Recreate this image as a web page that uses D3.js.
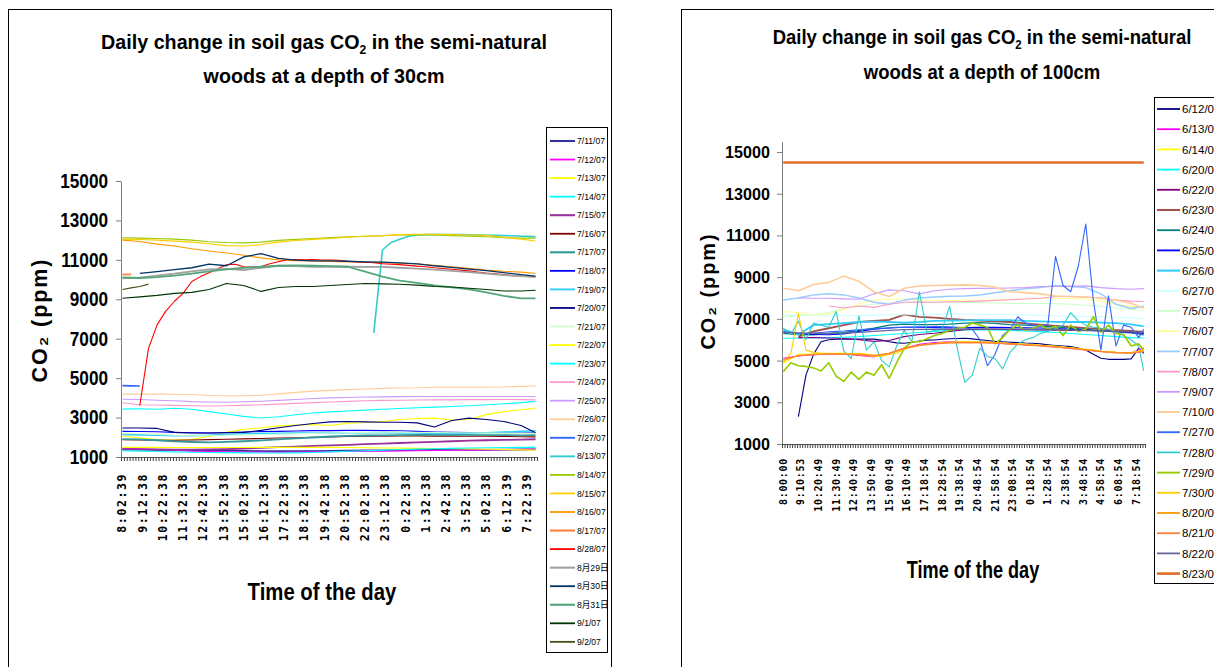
<!DOCTYPE html>
<html>
<head>
<meta charset="utf-8">
<script src="https://cdn.jsdelivr.net/npm/d3@7"></script>
<style>
  body { margin: 0; background: #fff; }
  svg { display: block; font-family: "Liberation Sans", Arial, sans-serif; }
</style>
</head>
<body>
<div id="chart"></div>
<script>

// tick labels (every 7th ten-minute category)
var timesL = ["8:02:39","9:12:38","10:22:38","11:32:38","12:42:38","13:52:38","15:02:38",
  "16:12:38","17:22:38","18:32:38","19:42:38","20:52:38","22:02:38","23:12:38","0:22:38",
  "1:32:38","2:42:38","3:52:38","5:02:38","6:12:39","7:22:39"];
var timesR = ["8:00:00","9:10:53","10:20:49","11:30:49","12:40:49","13:50:49","15:00:49",
  "16:10:49","17:18:54","18:28:54","19:38:54","20:48:54","21:58:54","23:08:54","0:18:54",
  "1:28:54","2:38:54","3:48:54","4:58:54","6:08:54","7:18:54"];
var yTicks = [1000, 3000, 5000, 7000, 9000, 11000, 13000, 15000];

////////////////////////
// 30 cm depth series
////////////////////////
var namesL = ["7/11/07","7/12/07","7/13/07","7/14/07","7/15/07","7/16/07","7/17/07","7/18/07",
  "7/19/07","7/20/07","7/21/07","7/22/07","7/23/07","7/24/07","7/25/07","7/26/07","7/27/07",
  "8/13/07","8/14/07","8/15/07","8/16/07","8/17/07","8/28/07","8月29日","8月30日","8月31日",
  "9/1/07","9/2/07"];
// minutes between readings of each series
var stepL = [60,60,60,60,60,60,60,60,60,60,60,60,60,60,60,60,30,30,60,60,60,30,30,60,60,60,60,30];

var L_0711 = [1380,1370,1360,1350,1340,1330,1320,1310,1300,1300,1300,1300,1310,1320,1330,1340,1350,1360,1370,1370,1360,1360,1370,1380,1390];
var L_0712 = [1450,1420,1380,1340,1300,1280,1260,1250,1250,1240,1250,1260,1270,1280,1290,1300,1310,1320,1330,1340,1350,1360,1370,1380,1400];
var L_0713 = [2050,1980,1880,1860,1900,2050,2250,2400,2480,2580,2620,2650,2600,2720,2750,2800,2900,2950,2970,2880,2900,3150,3300,3400,3480];
var L_0714 = [3430,3450,3420,3470,3420,3300,3180,3060,2980,3040,3140,3230,3290,3330,3380,3420,3460,3500,3530,3560,3600,3650,3700,3760,3820];
var L_0715 = [1400,1390,1380,1370,1370,1380,1400,1430,1460,1500,1530,1560,1590,1620,1650,1680,1710,1740,1770,1800,1830,1850,1870,1880,1900];
var L_0716 = [1880,1860,1850,1850,1860,1880,1900,1920,1940,1960,1980,2000,2020,2040,2050,2060,2070,2070,2060,2060,2050,2050,2040,2030,2020];
var L_0717 = [1910,1890,1850,1790,1760,1740,1770,1800,1840,1890,1940,1990,2040,2070,2090,2100,2110,2120,2120,2130,2120,2110,2110,2100,2110];
var L_0718 = [2300,2290,2280,2250,2230,2220,2240,2270,2290,2300,2320,2340,2340,2350,2350,2340,2330,2300,2270,2250,2240,2230,2220,2220,2230];
var L_0719 = [2150,2120,2100,2080,2080,2100,2150,2180,2200,2200,2210,2220,2220,2230,2230,2230,2220,2220,2200,2200,2210,2230,2260,2300,2330];
var L_0720 = [2470,2470,2450,2250,2220,2220,2230,2250,2350,2480,2600,2700,2780,2800,2780,2760,2760,2730,2520,2850,2970,2900,2800,2600,2230];
var L_0721 = [2200,2180,2150,2100,2080,2080,2100,2120,2140,2160,2180,2200,2220,2240,2250,2260,2260,2250,2240,2230,2220,2210,2200,2200,2200];
var L_0722 = [1490,1490,1490,1480,1480,1480,1480,1480,1490,1490,1490,1490,1490,1480,1470,1460,1450,1440,1430,1420,1410,1400,1380,1360,1350];
var L_0723 = [1320,1300,1280,1260,1240,1230,1220,1210,1200,1200,1210,1230,1260,1290,1320,1350,1380,1400,1420,1440,1460,1470,1480,1490,1490];
var L_0724 = [3750,3650,3640,3620,3600,3590,3600,3620,3650,3680,3720,3760,3790,3820,3850,3870,3880,3890,3900,3900,3910,3910,3920,3910,3900];
var L_0725 = [3930,3920,3880,3850,3810,3790,3780,3800,3830,3870,3920,3970,4000,4020,4040,4050,4060,4070,4070,4070,4070,4070,4070,4070,4070];
var L_0726 = [4190,4190,4190,4180,4170,4120,4110,4110,4130,4200,4280,4340,4380,4420,4450,4480,4500,4510,4540,4540,4540,4540,4550,4580,4600];
var L_0727 = [4620,4610,4600];
var L_0813 = [null,null,null,null,null,null,null,null,null,null,null,null,null,null,null,
  null,null,null,null,null,null,null,null,null,null,null,null,null,null,
  7300,11500,11880,12050,12200,12260,12280,12290,12290,12280,12280,12270,12260,12250,12240,12230,12220,12200,12190,12170];
var L_0814 = [12115,12100,12080,12050,12000,11920,11880,11860,11900,11990,12040,12080,12130,12170,12200,12220,12260,12270,12260,12230,12200,12170,12120,12100,12100];
var L_0815 = [12050,12030,12000,11950,11900,11820,11720,11700,11780,11900,11980,12040,12080,12150,12200,12230,12280,12300,12300,12280,12260,12240,12150,12050,11960];
var L_0816 = [12000,11930,11800,11700,11560,11450,11350,11230,11100,11000,10960,10940,10920,10900,10880,10860,10830,10800,10730,10650,10570,10480,10420,10380,10310];
var L_0817 = [10260,10260];
var L_0828 = [null,null,3600,6500,7700,8400,8900,9300,9900,10150,10350,10550,10750,10780,10650,10640,10660,10800,10900,11010,
  11020,11000,11020,10990,10990,10980,10930,10900,10880,10850,10800,10780,10760,10720,10680,10650,10600,10560,10520,10480,
  10440,10380,10330,10290,10250,10200,10170,10150,10140];
var L_0829 = [10060,10100,10200,10300,10420,10520,10540,10480,10600,10700,10680,10640,10650,10650,10640,10640,10600,10560,10500,10440,10380,10300,10230,10170,10140];
var L_0830 = [null,10310,10400,10500,10600,10780,10700,11150,11320,11070,10990,10950,10950,10930,10900,10880,10850,10800,10700,10620,10530,10450,10350,10250,10180];
var L_0831 = [10110,10080,10120,10200,10300,10420,10520,10600,10650,10700,10720,10700,10680,10650,10400,10150,9950,9830,9700,9600,9500,9350,9170,9050,9050];
var L_0901 = [9050,9120,9200,9300,9350,9500,9800,9700,9400,9600,9650,9650,9700,9750,9800,9780,9760,9720,9650,9620,9560,9500,9420,9420,9460];
var L_0902 = [9500,9580,9650,9770];

var seriesL = [L_0711,L_0712,L_0713,L_0714,L_0715,L_0716,L_0717,L_0718,L_0719,L_0720,L_0721,L_0722,
  L_0723,L_0724,L_0725,L_0726,L_0727,L_0813,L_0814,L_0815,L_0816,L_0817,L_0828,L_0829,L_0830,L_0831,
  L_0901,L_0902];
var colorsL = ["#333399","#FF00FF","#FFFF00","#00FFFF","#993399","#800000","#339999","#0000FF",
  "#33CCFF","#000080","#CCFFCC","#FFFF00","#00FFFF","#FF99CC","#CC99FF","#FFCC99","#3366FF",
  "#33CCCC","#99CC00","#FFCC00","#FF9900","#FF8040","#FF0000","#A0A0A0","#003366","#55A57A",
  "#003300","#4D4D1A"];
var widthsL = [1.8,1.1,1.1,1.1,1.8,1.1,1.8,1.1,1.6,1.1,1.1,1.1,1.1,1.1,1.1,1.1,1.6,1.6,1.1,1.1,1.1,1.8,1.1,1.8,1.3,1.8,1.1,1.1];

////////////////////////
// 100 cm depth series
////////////////////////
var namesR = ["6/12/07","6/13/07","6/14/07","6/20/07","6/22/07","6/23/07","6/24/07","6/25/07",
  "6/26/07","6/27/07","7/5/07","7/6/07","7/7/07","7/8/07","7/9/07","7/10/07","7/27/07","7/28/07",
  "7/29/07","7/30/07","8/20/07","8/21/07","8/22/07","8/23/07"];
var stepR = [30,60,60,60,60,60,60,60,60,60,60,60,60,60,60,60,30,30,30,30,60,60,60,60];

var R_0612 = [null,null,2310,4300,5300,5900,6000,6020,6030,6030,6030,6030,6030,5980,5900,5850,5830,5880,5940,5980,
  5990,6020,6050,6060,6070,6040,6000,5960,5920,5900,5880,5860,5840,5830,5800,5760,5720,5700,5670,5600,
  5510,5300,5110,5060,5060,5060,5080,5600,5350];
var R_0613 = [5110,5220,5280,5320,5330,5250,5170,5350,5590,5780,5860,5900,5910,5900,5860,5800,5750,5710,5650,5590,5520,5440,5400,5380,5600];
var R_0614 = [4870,5300,5330,5340,5360,5280,5200,5300,5550,5720,5820,5880,5900,5900,5870,5820,5780,5730,5680,5610,5540,5450,5400,5380,5500];
var R_0620 = [6070,6080,6100,6100,6120,6150,6200,6250,6300,6350,6400,6450,6470,6480,6470,6450,6420,6390,6350,6300,6250,6200,6150,6100,6080];
var R_0622 = [null,6100,6100,6080,6060,6000,5920,5960,6150,6250,6310,6400,6480,6500,6500,6490,6480,6470,6460,6450,6440,6440,6420,6400,6300];
var R_0623 = [null,6150,6400,6550,6700,6850,6900,6950,7200,7100,7060,7000,6950,6920,6880,6850,6780,6720,6660,6610,6560,6510,6460,6420,6380];
var R_0624 = [6300,6250,6230,6300,6350,6450,6550,6700,6750,6720,6720,6750,6800,6820,6780,6720,6700,6650,6600,6550,6500,6430,6380,6330,6230];
var R_0625 = [null,6300,6250,6240,6280,6400,6500,6560,6600,6600,6580,6570,6580,6590,6590,6580,6570,6560,6540,6500,6460,6420,6390,6350,6310];
var R_0626 = [6500,6250,6700,6750,6800,6850,6870,6850,6820,6850,6900,6920,6930,6940,6940,6940,6900,6880,6860,6850,6850,6820,6800,6740,6640];
var R_0627 = [7200,7200,7180,7150,7150,7160,7180,7200,7200,7210,7220,7230,7230,7220,7210,7200,7180,7160,7150,7140,7120,7100,7080,7050,7000];
var R_0705 = [7100,7150,7200,7300,7500,7600,7700,7750,7780,7790,7790,7790,7780,7770,7760,7750,7740,7740,7730,7700,7650,7600,7520,7450,7400];
var R_0706 = [7350,7300,7200,7250,7450,7700,7900,7950,7950,7900,7880,7880,7890,7900,7920,7930,7950,7980,7990,7980,7950,7850,7700,7600,7550];
var R_0707 = [7910,8000,8150,8200,8150,8000,7800,7700,7900,8000,8050,8080,8100,8150,8250,8350,8450,8500,8600,8550,8500,8200,7700,7500,7600];
var R_0708 = [null,null,null,7620,7520,7620,7550,7700,7800,7810,7800,7820,7830,7850,7880,7920,7950,7990,8070,8070,8050,8000,7900,7850,7830];
var R_0709 = [null,8000,7990,7990,7960,7940,8200,8390,8350,8200,8350,8420,8450,8460,8470,8480,8500,8550,8550,8560,8580,8500,8450,8420,8450];
var R_0710 = [8470,8350,8650,8750,9050,8800,8300,8070,8470,8580,8600,8620,8630,8600,8520,8300,8260,8200,8100,8070,8050,7990,7900,7750,7510];
var R_0727 = [6400,6350,6300,6300,6320,6350,6380,6400,6420,6450,6480,6500,6520,6550,6570,6590,6600,6610,6620,6620,
  6630,6630,6620,6600,6580,6500,6000,4750,5300,6200,6500,7100,6800,6700,6650,6750,10000,8600,8300,9500,
  11550,7900,5500,8100,5700,6700,6600,6100,6500];
var R_0728 = [6550,6250,6900,6000,6800,6700,6600,7350,5450,5100,7150,5500,5900,5000,4700,5700,6450,5900,8300,6350,
  6450,6500,7600,5600,3950,4300,5600,5200,5100,4600,5400,5800,6000,6100,6300,6400,6550,6700,7300,6900,
  6700,6600,6550,6500,6400,6200,6000,5700,4500];
var R_0729 = [4470,4900,4750,4720,4650,4500,4900,4250,4000,4450,4100,4450,4300,4800,4150,4900,5600,5900,5900,6050,
  6200,6300,6450,6550,6600,6800,6700,6600,5800,6100,6500,6700,6450,6550,6700,6500,6650,6200,6700,6400,
  6500,7100,6350,6700,6300,6250,5700,5800,5500];
var R_0730 = [4900,5350,7250,5500,5400,5350,5350,5330,5330,5340,5350,5300,5250,5200,5300,5350,5550,5650,5720,5780,
  5820,5850,5880,5890,5900,5900,5890,5880,5860,5840,5820,5800,5780,5760,5730,5710,5680,5650,5610,5580,
  5540,5500,5450,5420,5400,5390,5380,5450,5500];
var R_0820 = [5000,5250,5300,5330,5330,5300,5250,5350,5600,5750,5820,5860,5870,5870,5850,5800,5760,5720,5660,5600,5520,5440,5380,5360,5450];
var R_0821 = [5050,5230,5280,5300,5300,5260,5220,5330,5580,5730,5800,5840,5850,5850,5830,5790,5750,5700,5640,5580,5500,5420,5370,5350,5420];
var R_0822 = [6350,6330,6300,6300,6320,6350,6400,6450,6480,6500,6500,6500,6510,6520,6520,6510,6500,6490,6480,6460,6440,6420,6400,6380,6360];
var R_0823 = [14500,14500,14500,14500,14500,14500,14500,14500,14500,14500,14500,14500,14500,14500,14500,14500,14500,14500,14500,14500,14500,14500,14500,14500,14500];

var seriesR = [R_0612,R_0613,R_0614,R_0620,R_0622,R_0623,R_0624,R_0625,R_0626,R_0627,R_0705,R_0706,
  R_0707,R_0708,R_0709,R_0710,R_0727,R_0728,R_0729,R_0730,R_0820,R_0821,R_0822,R_0823];
var colorsR = ["#000080","#FF00FF","#FFFF00","#00FFFF","#800080","#A0524D","#008080","#0000FF",
  "#33CCFF","#CCFFFF","#CCFFCC","#FFFF99","#99CCFF","#FF99CC","#CC99FF","#FFCC99","#3366FF",
  "#33CCCC","#99CC00","#FFCC00","#FF9900","#FF8040","#666699","#E0702C"];
var widthsR = [1.1,1.1,1.1,1.1,1.1,1.8,1.3,1.1,1.8,1.1,1.1,1.1,1.5,1.1,1.1,1.6,1.1,1.1,1.6,1.1,1.1,1.1,1.3,2.4];


// add svg
var svg = d3.select("#chart").append("svg")
  .attr("width", 1214)
  .attr("height", 667);

// squeeze a text group horizontally so it spans a given width
function fitWidth(g, text, w, cx, cy, rot) {
  var s = w / text.node().getBBox().width;
  g.attr("transform", "translate(" + cx + "," + cy + ")" + (rot ? " rotate(-90)" : "") + " scale(" + s + ",1)");
  return s;
}

function drawChart(o) {

  var g = svg.append("g");

  // chart frame
  g.append("rect")
    .attr("x", o.frame[0] + 0.5)
    .attr("y", o.frame[1] + 0.5)
    .attr("width", o.frame[2])
    .attr("height", o.frame[3])
    .attr("fill", "#fff")
    .attr("stroke", "#000");

  // scales: category k (ten minutes each) sits at minute 10k
  var x = d3.scaleLinear()
    .domain([-5, 1435])
    .range([o.left, o.right]);
  var y = d3.scaleLinear()
    .domain(o.yDomain)
    .range([o.bottom, o.top]);

  // title, two lines, CO2 with subscript
  var t1 = g.append("g"),
      t2 = g.append("g");
  var tx1 = t1.append("text")
    .attr("text-anchor", "middle")
    .attr("font-size", o.titleFont)
    .attr("font-weight", "bold");
  tx1.append("tspan").text("Daily change in soil gas CO");
  tx1.append("tspan").attr("dy", 5).attr("font-size", o.titleFont * 0.62).text("2");
  tx1.append("tspan").attr("dy", -5).text(" in the semi-natural");
  var tx2 = t2.append("text")
    .attr("text-anchor", "middle")
    .attr("font-size", o.titleFont)
    .attr("font-weight", "bold")
    .text(o.title2);
  var s = fitWidth(t1, tx1, o.titleW, o.titleX, o.titleY[0]);
  t2.attr("transform", "translate(" + o.titleX + "," + o.titleY[1] + ") scale(" + s + ",1)");

  // y axis
  var ya = g.append("g")
    .attr("transform", "translate(" + o.left + ",0)")
    .call(d3.axisLeft(y).tickValues(yTicks).tickSize(5).tickSizeOuter(0).tickFormat(d3.format("d")));
  ya.select(".domain").attr("stroke", "#7f7f7f");
  ya.selectAll(".tick line").attr("stroke", "#7f7f7f");
  ya.selectAll(".tick text")
    .attr("font-family", "'Liberation Sans', Arial, sans-serif")
    .attr("font-size", o.yFont)
    .attr("font-weight", "bold")
    .attr("fill", "#000")
    .attr("x", -o.yPad / o.ySx)
    .attr("transform", "scale(" + o.ySx + ",1)");

  // x axis, tick marks between categories
  var xa = g.append("g")
    .attr("transform", "translate(0," + o.bottom + ")")
    .call(d3.axisBottom(x).tickValues(d3.range(-5, 1436, 10)).tickSize(4).tickSizeOuter(0).tickFormat(""));
  xa.select(".domain").attr("stroke", "#555");
  xa.selectAll(".tick line").attr("stroke", "#444");

  // time labels, rotated
  g.selectAll("text.xl")
    .data(o.times)
    .enter().append("text")
    .attr("class", "xl")
    .attr("transform", function(d, i) { return "translate(" + x(i * 70) + "," + (o.bottom + o.xGap) + ") rotate(-90)"; })
    .attr("text-anchor", "end")
    .attr("dy", "0.35em")
    .attr("font-family", "'DejaVu Sans Mono', monospace")
    .attr("font-weight", "bold")
    .attr("font-size", o.xFont)
    .attr("letter-spacing", o.xLs)
    .text(function(d) { return d; });

  // axis titles
  var xt = g.append("g");
  var xtt = xt.append("text")
    .attr("text-anchor", "middle")
    .attr("font-size", o.xtFont)
    .attr("font-weight", "bold")
    .text("Time of the day");
  fitWidth(xt, xtt, o.xtW, o.xtPos[0], o.xtPos[1]);

  var yt = g.append("g");
  var ytt = yt.append("text")
    .attr("text-anchor", "middle")
    .attr("dy", "0.36em")
    .attr("font-size", o.ytFont)
    .attr("font-weight", "bold")
    .attr("letter-spacing", 2)
    .text("CO\u2082 (ppm)");
  fitWidth(yt, ytt, o.ytW, o.ytPos[0], o.ytPos[1], true);

  // series lines
  var line = d3.line()
    .defined(function(d) { return d.v != null; })
    .x(function(d) { return x(d.m); })
    .y(function(d) { return y(d.v); });

  o.series.forEach(function(vals, k) {
    var pts = vals.map(function(v, i) { return {m: Math.min(i * o.steps[k], 1430), v: v}; });
    g.append("path")
      .datum(pts)
      .attr("d", line)
      .attr("fill", "none")
      .attr("stroke", o.colors[k])
      .attr("stroke-width", o.widths[k])
      .attr("stroke-linejoin", "round");
  });

  // legend
  var lg = g.append("g");
  lg.append("rect")
    .attr("x", o.legend.x + 0.5)
    .attr("y", o.legend.y + 0.5)
    .attr("width", o.legend.w)
    .attr("height", o.legend.h)
    .attr("fill", "#fff")
    .attr("stroke", "#000");
  var items = lg.selectAll("g.item")
    .data(o.names)
    .enter().append("g")
    .attr("class", "item")
    .attr("transform", function(d, i) { return "translate(" + o.legend.x + "," + (o.legend.first + i * o.legend.gap) + ")"; });
  items.append("line")
    .attr("x1", o.legend.l0)
    .attr("x2", o.legend.l1)
    .attr("stroke", function(d, i) { return o.colors[i]; })
    .attr("stroke-width", function(d, i) { return Math.max(o.widths[i], 1.5) + 0.3; });
  items.append("text")
    .attr("x", o.legend.l1 + 2)
    .attr("dy", "0.36em")
    .attr("font-family", "'Liberation Sans', 'Noto Sans CJK JP', sans-serif")
    .attr("font-size", o.legend.font)
    .text(function(d) { return d; });
}

// left chart: 30 cm
drawChart({
  frame: [8, 9, 603, 700],
  left: 121, right: 537, top: 181, bottom: 457,
  yDomain: [1000, 15000],
  titleFont: 21, title2: "woods at a depth of 30cm", titleX: 324, titleY: [49, 83], titleW: 446,
  yFont: 20, ySx: 0.86, yPad: 13,
  times: timesL, xGap: 16, xFont: 11.5, xLs: 1.6,
  xtFont: 23, xtW: 149, xtPos: [322, 600],
  ytFont: 22, ytW: 125, ytPos: [39, 320],
  series: seriesL, steps: stepL, colors: colorsL, widths: widthsL, names: namesL,
  legend: {x: 546, y: 127, w: 61, h: 525, first: 141, gap: 18.55, l0: 4, l1: 29, font: 8.6}
});

// right chart: 100 cm
drawChart({
  frame: [681, 9, 600, 700],
  left: 782, right: 1145, top: 141.6, bottom: 444,
  yDomain: [1000, 15500],
  titleFont: 21, title2: "woods at a depth of 100cm", titleX: 982, titleY: [44, 79], titleW: 419,
  yFont: 17, ySx: 0.95, yPad: 12,
  times: timesR, xGap: 14, xFont: 10, xLs: 0.7,
  xtFont: 24, xtW: 133, xtPos: [973, 578],
  ytFont: 20, ytW: 117, ytPos: [708, 291],
  series: seriesR, steps: stepR, colors: colorsR, widths: widthsR, names: namesR,
  legend: {x: 1154, y: 97, w: 100, h: 486, first: 109, gap: 20.2, l0: 3, l1: 26, font: 11.5}
});

</script>
</body>
</html>
